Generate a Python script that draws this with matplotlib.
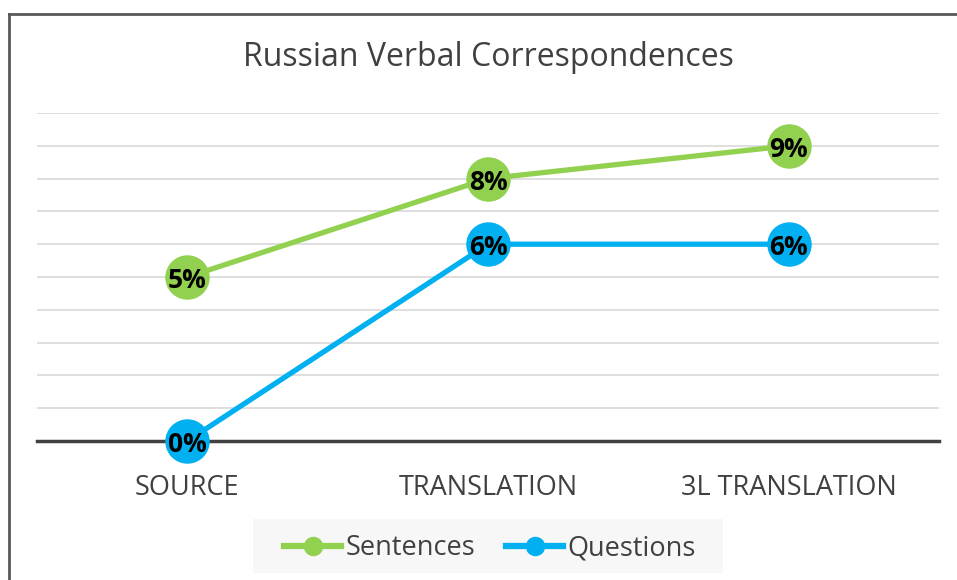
import matplotlib
matplotlib.use("Agg")
import matplotlib.pyplot as plt
import matplotlib.transforms as mtransforms
from matplotlib.lines import Line2D
from matplotlib.patches import Rectangle

categories = ["SOURCE", "TRANSLATION", "3L TRANSLATION"]
sentences = [5, 8, 9]
questions = [0, 6, 6]
labels_sent = ["5%", "8%", "9%"]
labels_q = ["0%", "6%", "6%"]
title = "Russian Verbal Correspondences"

GREEN = "#92d050"
BLUE = "#00b0f0"
TXT = "#404040"
FONT = ["Open Sans", "DejaVu Sans"]
plt.rcParams["font.family"] = FONT

W, H = 957, 580
fig = plt.figure(figsize=(W / 100, H / 100), dpi=100)
ax = fig.add_axes([37 / W, 1 - 441 / H, (939 - 37) / W, (441 - 113) / H])

x = list(range(len(categories)))
ax.set_xlim(-0.5, len(categories) - 0.5)
ax.set_ylim(0, 10)
ax.set_yticks(range(0, 11))
ax.yaxis.grid(True, color="#d9d9d9", linewidth=1.2)
ax.set_axisbelow(True)
ax.tick_params(axis="y", left=False, labelleft=False)
ax.tick_params(axis="x", bottom=False, pad=20, labelsize=19.5, labelcolor=TXT)
ax.set_xticks(x)
ax.set_xticklabels(categories)
for s in ["top", "right", "left"]:
    ax.spines[s].set_visible(False)
ax.spines["bottom"].set_color("#404040")
ax.spines["bottom"].set_linewidth(2.5)
ax.spines["bottom"].set_zorder(2)

label_tr = ax.transData + mtransforms.ScaledTranslation(0, -2.5 / 72, fig.dpi_scale_trans)
for vals, labs, col in [(sentences, labels_sent, GREEN), (questions, labels_q, BLUE)]:
    ax.plot(x, vals, color=col, linewidth=3.8, marker="o", markersize=32,
            markeredgewidth=0, clip_on=False, zorder=3)
    for xi, v, lab in zip(x, vals, labs):
        ax.text(xi, v, lab, ha="center", va="center", fontsize=19,
                fontweight="bold", color="black", zorder=4, transform=label_tr)

fig.text(488 / W, 1 - 58 / H, title, ha="center", va="center",
         fontsize=23, color=TXT)

# legend background box
fig.add_artist(Rectangle((253 / W, 1 - 573 / H), (723 - 253) / W, (573 - 519) / H,
                         transform=fig.transFigure, facecolor="#f7f7f7",
                         edgecolor="none", zorder=0))
handles = [Line2D([0], [0], color=GREEN, lw=4.5, marker="o", markersize=13),
           Line2D([0], [0], color=BLUE, lw=4.5, marker="o", markersize=13)]
leg = fig.legend(handles, ["Sentences", "Questions"], loc="center",
                 bbox_to_anchor=(490 / W, 1 - 548 / H), ncol=2,
                 frameon=False, fontsize=19.5, handlelength=2.1,
                 handletextpad=0.15, columnspacing=1.15, borderpad=0,
                 borderaxespad=0)
for t in leg.get_texts():
    t.set_color(TXT)

# outer frame (left and top only, as in the reference)
fig.add_artist(Line2D([8.5 / W, 8.5 / W], [0, 1 - 14 / H], transform=fig.transFigure,
                      color="#595959", lw=2))
fig.add_artist(Line2D([8.5 / W, 1], [1 - 14 / H, 1 - 14 / H], transform=fig.transFigure,
                      color="#595959", lw=2))

fig.savefig("out.png", dpi=100)
